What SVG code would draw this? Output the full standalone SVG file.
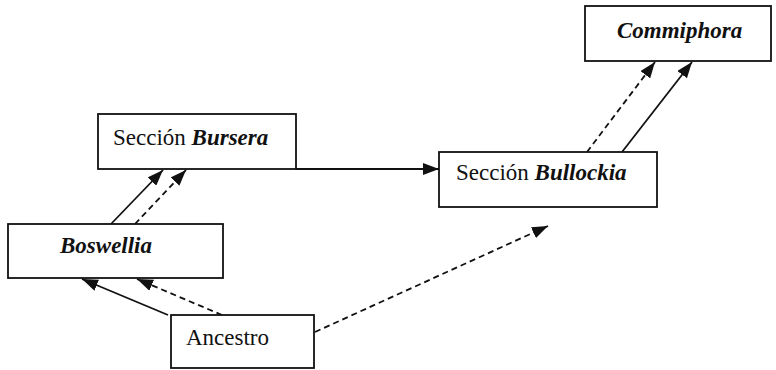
<svg xmlns="http://www.w3.org/2000/svg" width="776" height="370" viewBox="0 0 776 370">
<style>
.box{fill:#fff;stroke:#111;stroke-width:1.8}
.t{font-family:"Liberation Serif","Times New Roman",serif;font-size:23px;fill:#111}
.bi{font-weight:bold;font-style:italic}
.c{stroke:#111;stroke-width:1.8;fill:none}
.d{stroke-dasharray:6,4}
</style>
<defs>
<marker id="ah" viewBox="0 0 16 12" refX="16" refY="6" markerWidth="16" markerHeight="12" markerUnits="userSpaceOnUse" orient="auto">
<path d="M0,0 L16,6 L0,12 z" fill="#111"/>
</marker>
</defs>
<rect width="776" height="370" fill="#fff"/>
<g id="connectors">
<line class="c" x1="296" y1="169" x2="439" y2="169" marker-end="url(#ah)"/>
<line class="c" x1="111" y1="224" x2="163" y2="170" marker-end="url(#ah)"/>
<line class="c d" x1="135" y1="224" x2="186" y2="170" marker-end="url(#ah)"/>
<line class="c" x1="168" y1="315" x2="82" y2="279" marker-end="url(#ah)"/>
<line class="c d" x1="222" y1="315" x2="137" y2="279" marker-end="url(#ah)"/>
<line class="c d" x1="315" y1="332" x2="548" y2="226" marker-end="url(#ah)"/>
<line class="c d" x1="587" y1="152" x2="655" y2="62" marker-end="url(#ah)"/>
<line class="c" x1="622" y1="152" x2="692" y2="62" marker-end="url(#ah)"/>
</g>
<g id="bursera">
<rect class="box" x="98" y="114" width="198" height="55"/>
<text class="t" x="113" y="145">Sección <tspan class="bi">Bursera</tspan></text>
</g>
<g id="boswellia">
<rect class="box" x="8" y="224" width="215" height="54"/>
<text class="t bi" x="60" y="253">Boswellia</text>
</g>
<g id="ancestro">
<rect class="box" x="171" y="315" width="143" height="53"/>
<text class="t" x="186" y="345">Ancestro</text>
</g>
<g id="bullockia">
<rect class="box" x="439" y="152" width="218" height="55"/>
<text class="t" x="456" y="180">Sección <tspan class="bi">Bullockia</tspan></text>
</g>
<g id="commiphora">
<rect class="box" x="585" y="6" width="186" height="55"/>
<text class="t bi" x="617" y="38">Commiphora</text>
</g>
</svg>
